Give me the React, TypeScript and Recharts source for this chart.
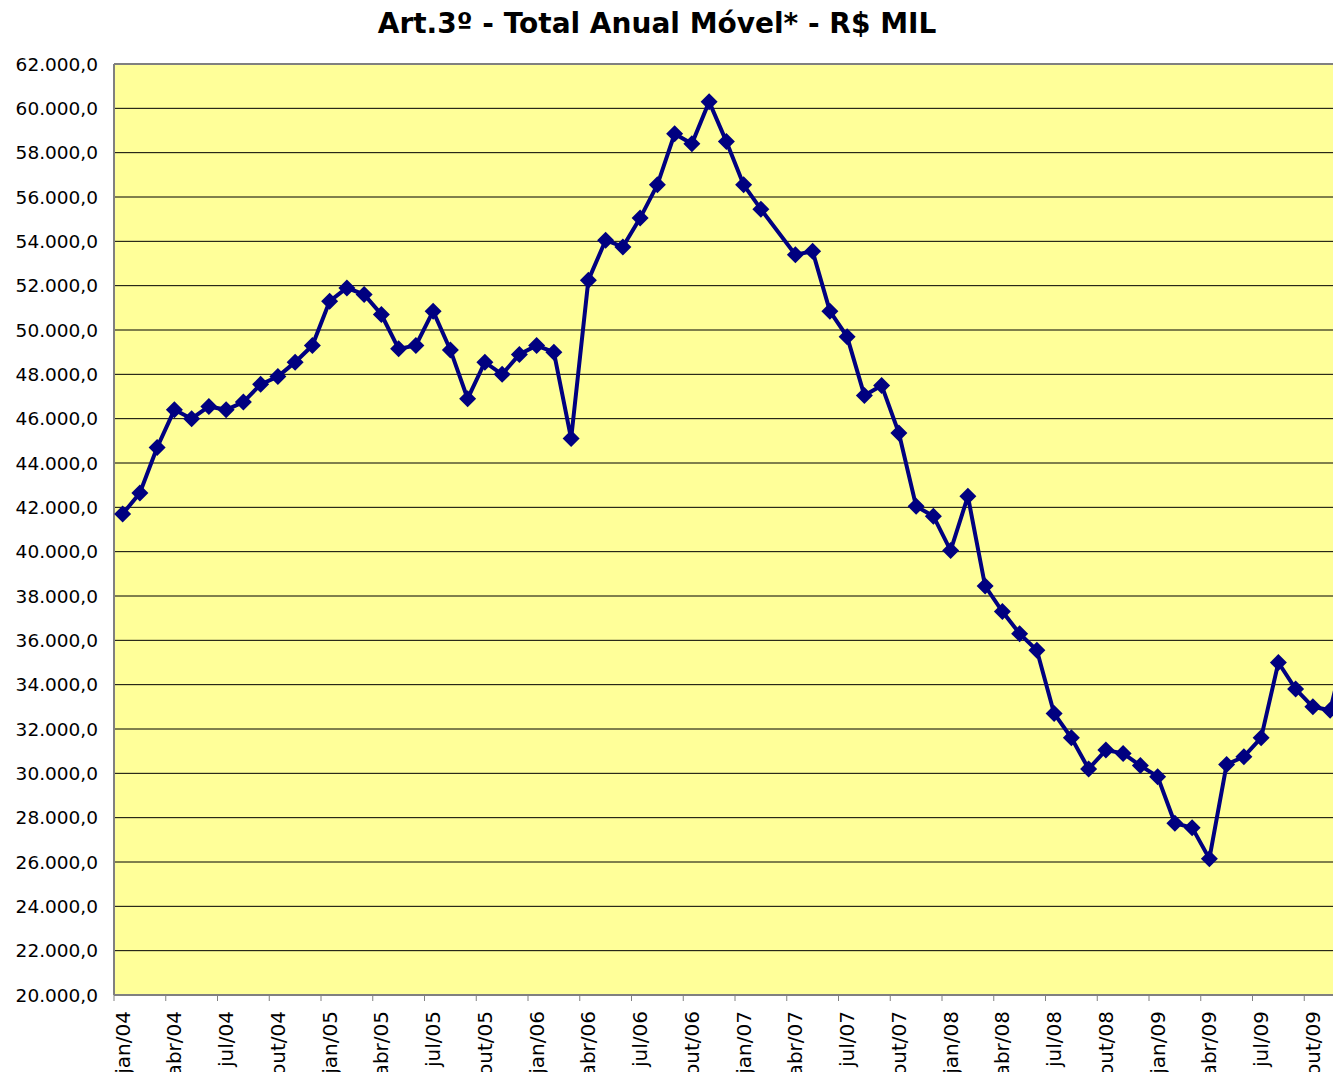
import { LineChart, Line, XAxis, YAxis, CartesianGrid, ReferenceLine } from "recharts"

const months = [
  "jan/04", "fev/04", "mar/04", "abr/04", "mai/04", "jun/04", "jul/04", "ago/04", "set/04", "out/04", "nov/04", "dez/04",
  "jan/05", "fev/05", "mar/05", "abr/05", "mai/05", "jun/05", "jul/05", "ago/05", "set/05", "out/05", "nov/05", "dez/05",
  "jan/06", "fev/06", "mar/06", "abr/06", "mai/06", "jun/06", "jul/06", "ago/06", "set/06", "out/06", "nov/06", "dez/06",
  "jan/07", "fev/07", "mar/07", "abr/07", "mai/07", "jun/07", "jul/07", "ago/07", "set/07", "out/07", "nov/07", "dez/07",
  "jan/08", "fev/08", "mar/08", "abr/08", "mai/08", "jun/08", "jul/08", "ago/08", "set/08", "out/08", "nov/08", "dez/08",
  "jan/09", "fev/09", "mar/09", "abr/09", "mai/09", "jun/09", "jul/09", "ago/09", "set/09", "out/09", "nov/09", "dez/09",
]

// total anual móvel, R$ mil (mar/07 sem valor)
const totals: (number | null)[] = [
  41700, 42650, 44700, 46400, 46000, 46550, 46400, 46750, 47550, 47900, 48550, 49300,
  51300, 51900, 51600, 50700, 49150, 49300, 50850, 49100, 46900, 48550, 48000, 48900,
  49300, 49000, 45100, 52250, 54050, 53750, 55050, 56550, 58850, 58400, 60300, 58500,
  56550, 55450, null, 53400, 53550, 50850, 49700, 47050, 47500, 45350, 42050, 41600,
  40050, 42500, 38450, 37300, 36300, 35550, 32700, 31600, 30200, 31050, 30900, 30350,
  29850, 27750, 27550, 26150, 30400, 30750, 31600, 35000, 33800, 33000, 32850, 36000,
]

const yTicks = [
  20000, 22000, 24000, 26000, 28000, 30000, 32000, 34000, 36000, 38000, 40000,
  42000, 44000, 46000, 48000, 50000, 52000, 54000, 56000, 58000, 60000, 62000,
]

const data = months.map((m, i) => ({ month: m, total: totals[i] }))

const FONT = "'DejaVu Sans', Verdana, sans-serif"
const HALF_BAND = 8.625

function fmt(v: number) {
  const s = Math.round(v).toString().replace(/\B(?=(\d{3})+(?!\d))/g, ".")
  return s + ",0"
}

function Diamond(props: any) {
  const { cx, cy, index } = props
  if (cx == null || cy == null || isNaN(cy)) return <g key={index} />
  const r = 8.5
  return (
    <polygon
      key={index}
      points={`${cx},${cy - r} ${cx + r},${cy} ${cx},${cy + r} ${cx - r},${cy}`}
      fill="#000080"
    />
  )
}

function MonthTick(props: any) {
  const { x, y, payload } = props
  const half = payload && payload.offset ? payload.offset : HALF_BAND
  const ty = y + 16
  return (
    <g>
      <line x1={x - half} y1={y} x2={x - half} y2={y + 6} stroke="#808080" strokeWidth={1} />
      <text
        x={x}
        y={ty}
        transform={`rotate(-90, ${x}, ${ty})`}
        textAnchor="end"
        dominantBaseline="central"
        fontFamily={FONT}
        fontSize={20}
        fill="#000"
      >
        {payload.value}
      </text>
    </g>
  )
}

export default function App() {
  return (
    <div
      style={{
        position: "fixed",
        left: 0,
        top: 0,
        width: 1333,
        height: 1072,
        overflow: "hidden",
        background: "#fff",
      }}
    >
      <svg width={1333} height={50} style={{ position: "absolute", left: 0, top: 0, zIndex: 2 }}>
        <text x={657} y={33} textAnchor="middle" fontFamily={FONT} fontWeight="bold" fontSize={28} fill="#000">
          Art.3º - Total Anual Móvel* - R$ MIL
        </text>
      </svg>
      <LineChart width={1366} height={1120} data={data} margin={{ top: 64, right: 10, bottom: 0, left: 0 }}>
        <CartesianGrid vertical={false} stroke="#000" strokeWidth={1} fill="#FFFF99" fillOpacity={1} />
        <XAxis
          dataKey="month"
          scale="band"
          interval={2}
          height={125}
          tickLine={false}
          tickSize={0}
          tickMargin={0}
          axisLine={{ stroke: "#808080", strokeWidth: 2 }}
          tick={<MonthTick />}
        />
        <YAxis
          width={114}
          domain={[20000, 62000]}
          ticks={yTicks}
          interval={0}
          tickLine={false}
          tickSize={0}
          tickMargin={16}
          axisLine={{ stroke: "#808080", strokeWidth: 2 }}
          tickFormatter={fmt}
          tick={{ fontFamily: FONT, fontSize: 18.5, fill: "#000" }}
        />
        <ReferenceLine y={62000} stroke="#808080" strokeWidth={2} />
        <Line
          type="linear"
          dataKey="total"
          stroke="#000080"
          strokeWidth={4}
          connectNulls
          dot={<Diamond />}
          activeDot={false}
          isAnimationActive={false}
        />
      </LineChart>
    </div>
  )
}
